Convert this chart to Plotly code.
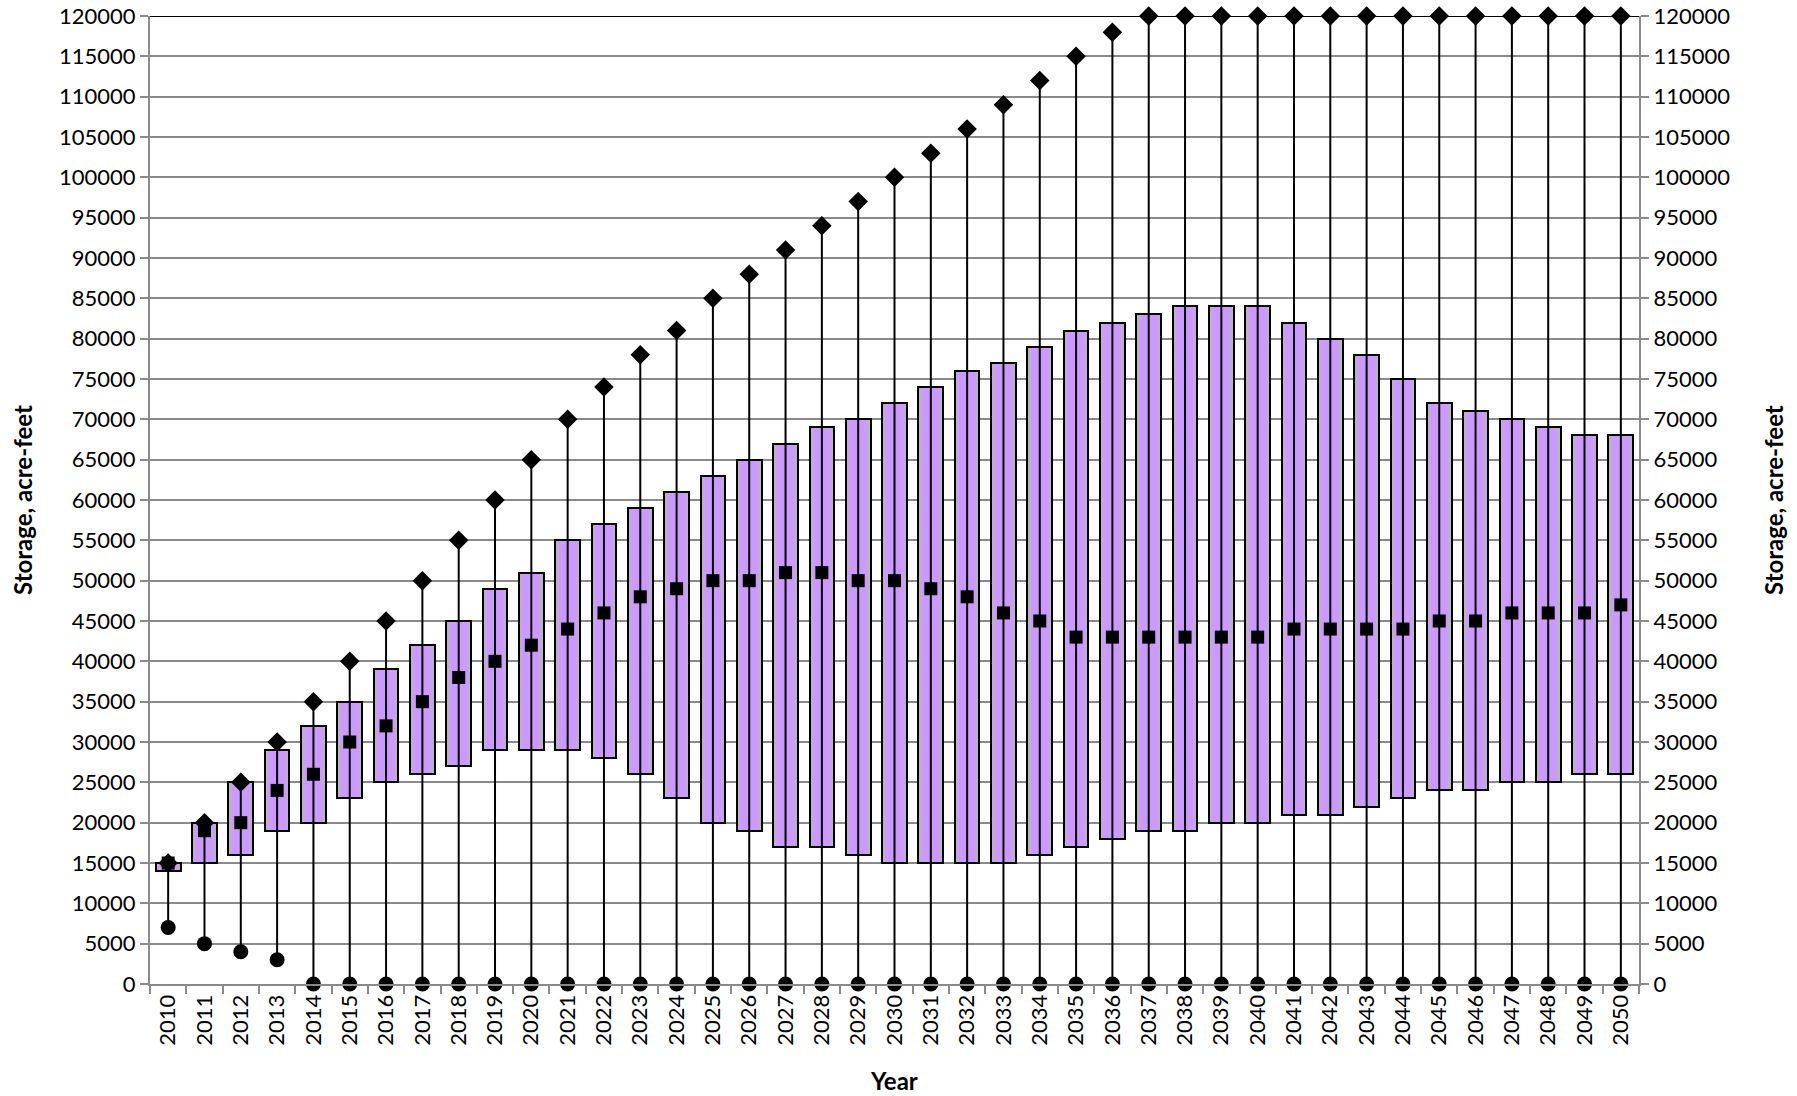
import plotly.graph_objects as go

years = [str(y) for y in range(2010, 2051)]
max_vals = [15000, 20000, 25000, 30000, 35000, 40000, 45000, 50000, 55000, 60000,
            65000, 70000, 74000, 78000, 81000, 85000, 88000, 91000, 94000, 97000,
            100000, 103000, 106000, 109000, 112000, 115000, 118000, 120000, 120000, 120000,
            120000, 120000, 120000, 120000, 120000, 120000, 120000, 120000, 120000, 120000, 120000]
q3_vals = [15000, 20000, 25000, 29000, 32000, 35000, 39000, 42000, 45000, 49000,
           51000, 55000, 57000, 59000, 61000, 63000, 65000, 67000, 69000, 70000,
           72000, 74000, 76000, 77000, 79000, 81000, 82000, 83000, 84000, 84000,
           84000, 82000, 80000, 78000, 75000, 72000, 71000, 70000, 69000, 68000, 68000]
median_vals = [15000, 19000, 20000, 24000, 26000, 30000, 32000, 35000, 38000, 40000,
               42000, 44000, 46000, 48000, 49000, 50000, 50000, 51000, 51000, 50000,
               50000, 49000, 48000, 46000, 45000, 43000, 43000, 43000, 43000, 43000,
               43000, 44000, 44000, 44000, 44000, 45000, 45000, 46000, 46000, 46000, 47000]
q1_vals = [14000, 15000, 16000, 19000, 20000, 23000, 25000, 26000, 27000, 29000,
           29000, 29000, 28000, 26000, 23000, 20000, 19000, 17000, 17000, 16000,
           15000, 15000, 15000, 15000, 16000, 17000, 18000, 19000, 19000, 20000,
           20000, 21000, 21000, 22000, 23000, 24000, 24000, 25000, 25000, 26000, 26000]
min_vals = [7000, 5000, 4000, 3000] + [0] * 37

FONT = "Lato"
fig = go.Figure()

# whiskers (min to max)
wx, wy = [], []
for yr, lo, hi in zip(years, min_vals, max_vals):
    wx += [yr, yr, None]
    wy += [lo, hi, None]
fig.add_trace(go.Scatter(x=wx, y=wy, mode="lines", line=dict(color="black", width=2),
                         hoverinfo="skip", showlegend=False, yaxis="y2"))

# boxes with a gradient look (gray edges -> purple center)
heights = [h - l for h, l in zip(q3_vals, q1_vals)]
gray = (184, 184, 184)
purple = (204, 153, 255)
BOX_W = 0.68
n_layers = 8
for i in range(n_layers):
    t = min(1.0, i / 4)
    c = tuple(round(g + (p - g) * t) for g, p in zip(gray, purple))
    w = BOX_W * (1 - i * 0.09)
    fig.add_trace(go.Bar(x=years, y=heights, base=q1_vals, width=w,
                         marker=dict(color="rgb(%d,%d,%d)" % c, line=dict(width=0)),
                         hoverinfo="skip", showlegend=False))
fig.add_trace(go.Bar(x=years, y=heights, base=q1_vals, width=BOX_W,
                     marker=dict(color="rgba(0,0,0,0)", line=dict(color="black", width=2)),
                     showlegend=False))

# markers
fig.add_trace(go.Scatter(x=years, y=max_vals, mode="markers", cliponaxis=False,
                         marker=dict(symbol="diamond", size=15, color="black"), showlegend=False))
fig.add_trace(go.Scatter(x=years, y=median_vals, mode="markers", cliponaxis=False,
                         marker=dict(symbol="square", size=13, color="black"), showlegend=False))
fig.add_trace(go.Scatter(x=years, y=min_vals, mode="markers", cliponaxis=False,
                         marker=dict(symbol="circle", size=15, color="black"), showlegend=False))

grid = "#8a8a8a"
yax = dict(range=[0, 120000], dtick=5000, tick0=0, showgrid=True, gridcolor=grid, gridwidth=1.5,
           showline=True, linecolor=grid, linewidth=2, ticks="outside", ticklen=8, tickcolor=grid,
           tickwidth=1.5, tickfont=dict(family=FONT, size=22, color="black"), zeroline=False,
           tickformat="d", automargin=False, ticklabeloverflow="allow")
TITLE_FONT = dict(family=FONT, size=24, color="black")
fig.update_layout(
    width=1797, height=1096, plot_bgcolor="white", paper_bgcolor="white",
    margin=dict(l=150, r=158, t=16, b=112), barmode="overlay", bargap=0,
    font=dict(family=FONT, color="black"),
    xaxis=dict(type="category", range=[-0.5, 40.5], tickangle=-90, tickson="boundaries",
               ticks="outside", ticklen=8, tickcolor=grid, tickwidth=1.5, showline=True,
               linecolor=grid, linewidth=2, showgrid=False, automargin=False,
               tickfont=dict(family=FONT, size=22, color="black")),
    yaxis=yax,
    yaxis2=dict(yax, overlaying="y", side="right", showgrid=False),
    shapes=[dict(type="line", xref="paper", yref="y", x0=0, x1=1, y0=120000, y1=120000,
                 line=dict(color="black", width=2), layer="below")],
    annotations=[
        dict(text="<b>Storage, acre-feet</b>", xref="paper", yref="paper", x=-0.086, y=0.5,
             textangle=-90, showarrow=False, font=TITLE_FONT, xanchor="center", yanchor="middle"),
        dict(text="<b>Storage, acre-feet</b>", xref="paper", yref="paper", x=1.090, y=0.5,
             textangle=-90, showarrow=False, font=TITLE_FONT, xanchor="center", yanchor="middle"),
        dict(text="<b>Year</b>", xref="paper", yref="paper", x=0.4997, y=-0.100,
             showarrow=False, font=TITLE_FONT, xanchor="center", yanchor="middle"),
    ],
)
fig.write_html("out.html", config={"displayModeBar": False},
               post_script="document.body.style.margin='0';document.body.style.overflow='hidden';")
